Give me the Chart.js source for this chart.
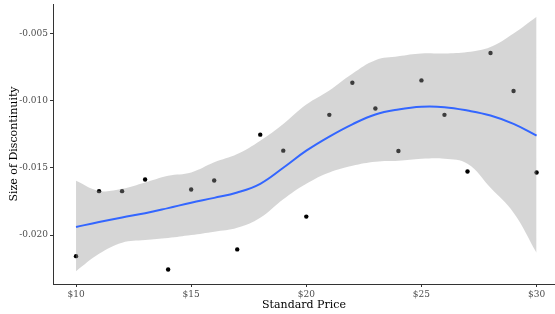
<!DOCTYPE html>
<html>
<head>
<meta charset="utf-8">
<script src="https://cdn.jsdelivr.net/npm/chart.js@4/dist/chart.umd.min.js"></script>
<style>
  html, body { margin: 0; padding: 0; background: #fff; }
  #wrap { width: 555px; height: 314px; }
</style>
</head>
<body>
<div id="wrap"><canvas id="priceChart" width="555" height="314"></canvas></div>
<script>
// Data
const prices = [10, 11, 12, 13, 14, 15, 16, 17, 18, 19, 20, 21, 22, 23, 24, 25, 26, 27, 28, 29, 30];
const discontinuity = [-0.02157, -0.01674, -0.01674, -0.01587, -0.02256, -0.01662, -0.01595, -0.02107, -0.01254, -0.01373,
  -0.01863, -0.01107, -0.00868, -0.0106, -0.01375, -0.00851, -0.01107, -0.01528, -0.00647, -0.0093, -0.01535];
const smoothFit = [-0.0194, -0.01903, -0.01869, -0.01838, -0.018, -0.0176, -0.01724, -0.01684, -0.01619, -0.0150,
  -0.01373, -0.01268, -0.01177, -0.01104, -0.01067, -0.01047, -0.0105, -0.01075, -0.01112, -0.01174, -0.01261];
const bandUpper = [-0.01597, -0.01672, -0.01657, -0.0161, -0.0156, -0.01535, -0.0146, -0.01398, -0.01299, -0.01174,
  -0.0103, -0.00925, -0.00801, -0.00701, -0.00672, -0.00651, -0.00651, -0.0064, -0.00602, -0.00502, -0.00378];
const bandLower = [-0.02269, -0.0214, -0.02057, -0.02037, -0.02022, -0.02, -0.01975, -0.01946, -0.01871, -0.01734,
  -0.01619, -0.01535, -0.01485, -0.01455, -0.01448, -0.01433, -0.01433, -0.0147, -0.01649, -0.01834, -0.02132];
const xTicks = [10, 15, 20, 25, 30];
const yTicks = [-0.020, -0.015, -0.010, -0.005];

(() => {
  const toPoints = (ys) => prices.map((x, i) => ({ x, y: ys[i] }));
  const serif = "'DejaVu Serif', serif";

  const ctx = document.getElementById("priceChart").getContext("2d");

  new Chart(ctx, {
    type: "scatter",
    data: {
      datasets: [
        {
          // points go first so the ribbon greys them out like ggplot does
          label: "obs",
          data: toPoints(discontinuity),
          backgroundColor: "#000",
          borderWidth: 0,
          pointRadius: 2.2,
          order: 4
        },
        {
          label: "upper",
          type: "line",
          data: toPoints(bandUpper),
          borderWidth: 0,
          borderColor: "rgba(0,0,0,0)",
          pointRadius: 0,
          tension: 0.4,
          fill: "+1",
          backgroundColor: "rgba(153,153,153,0.4)",
          order: 3
        },
        {
          label: "lower",
          type: "line",
          data: toPoints(bandLower),
          borderWidth: 0,
          borderColor: "rgba(0,0,0,0)",
          pointRadius: 0,
          tension: 0.4,
          fill: false,
          order: 2
        },
        {
          label: "fit",
          type: "line",
          data: toPoints(smoothFit),
          borderColor: "#3366FF",
          borderWidth: 2,
          pointRadius: 0,
          tension: 0.4,
          fill: false,
          order: 1
        }
      ]
    },
    options: {
      responsive: false,
      animation: false,
      layout: { autoPadding: false, padding: { top: 4, right: 0, left: 0, bottom: 0 } },
      plugins: { legend: { display: false }, tooltip: { enabled: false } },
      scales: {
        x: {
          type: "linear",
          min: 9,
          max: 30.8,
          afterBuildTicks: (s) => { s.ticks = xTicks.map(v => ({ value: v })); },
          afterFit: (s) => { s.height = 30; s.paddingLeft = 0; s.paddingRight = 0; },
          grid: { display: true, drawOnChartArea: false, tickLength: 3, tickColor: "#333" },
          border: { display: true, color: "#333", width: 1 },
          ticks: {
            color: "#4D4D4D",
            padding: 2,
            maxRotation: 0,
            font: { family: serif, size: 9 },
            callback: (v) => "$" + v
          },
          title: {
            display: true,
            text: "Standard Price",
            color: "#000",
            padding: { top: 0, bottom: 2 },
            font: { family: serif, size: 11 }
          }
        },
        y: {
          min: -0.02364,
          max: -0.00283,
          afterBuildTicks: (s) => { s.ticks = yTicks.map(v => ({ value: v })); },
          afterFit: (s) => { s.width = 53; s.paddingTop = 0; s.paddingBottom = 0; },
          grid: { display: true, drawOnChartArea: false, tickLength: 3, tickColor: "#333" },
          border: { display: true, color: "#333", width: 1 },
          ticks: {
            color: "#4D4D4D",
            padding: 2,
            font: { family: serif, size: 9 },
            callback: (v) => v.toFixed(3)
          },
          title: {
            display: true,
            text: "Size of Discontinuity",
            color: "#000",
            padding: { top: 8, bottom: 0 },
            font: { family: serif, size: 11 }
          }
        }
      }
    }
  });
})();
</script>
</body>
</html>
